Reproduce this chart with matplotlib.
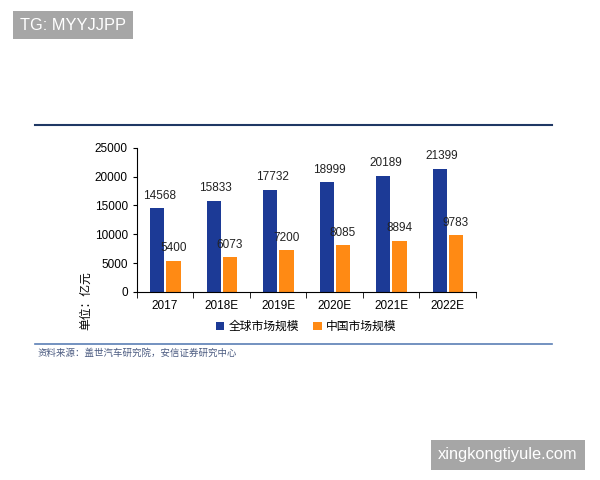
import numpy as np
import matplotlib.pyplot as plt
from matplotlib.lines import Line2D

plt.rcParams['font.family'] = ['Liberation Sans', 'Noto Sans CJK SC', 'DejaVu Sans']

# 数据
years = ['2017', '2018E', '2019E', '2020E', '2021E', '2022E']
global_size = [14568, 15833, 17732, 18999, 20189, 21399]
china_size = [5400, 6073, 7200, 8085, 8894, 9783]

blue = '#1c3a96'
orange = '#ff8a14'

fig = plt.figure(figsize=(6, 4.8), dpi=100)
ax = fig.add_axes([0.228, 0.392, 0.565, 0.30])

x = np.arange(len(years))
w = 0.25
ax.bar(x - 0.14, global_size, width=w, color=blue, label='全球市场规模')
ax.bar(x + 0.15, china_size, width=w, color=orange, label='中国市场规模')

for i in range(len(years)):
    ax.text(x[i] - 0.1, global_size[i] + 1100, str(global_size[i]),
            ha='center', va='bottom', fontsize=8.5, color='#222222')
    ax.text(x[i] + 0.15, china_size[i] + 1100, str(china_size[i]),
            ha='center', va='bottom', fontsize=8.5, color='#222222')

ax.set_xlim(-0.5, len(years) - 0.5)
ax.set_ylim(0, 25000)
ax.set_yticks(range(0, 25001, 5000))
ax.set_xticks(x)
ax.set_xticklabels(years)
ax.set_xticks(np.arange(-0.5, len(years), 1), minor=True)
ax.tick_params(axis='x', which='major', length=0, labelsize=8.5, pad=6)
ax.tick_params(axis='x', which='minor', length=4, direction='out')
ax.tick_params(axis='y', length=3, direction='out', labelsize=8.5)
ax.spines['top'].set_visible(False)
ax.spines['right'].set_visible(False)
ax.set_ylabel('单位：亿元', fontsize=8.5)
ax.yaxis.set_label_coords(-0.133, -0.06)

ax.legend(loc='upper center', bbox_to_anchor=(0.5, -0.13), ncol=2, frameon=False,
          fontsize=8.5, handlelength=0.7, handleheight=0.7, handletextpad=0.4,
          columnspacing=1.2)

# 上下分隔线
fig.add_artist(Line2D([35 / 600, 552 / 600], [1 - 125 / 480, 1 - 125 / 480],
                      color='#1f3864', lw=1.5))
fig.add_artist(Line2D([35 / 600, 552 / 600], [1 - 344 / 480, 1 - 344 / 480],
                      color='#5b7fb5', lw=1.2))
fig.text(38 / 600, 1 - 353 / 480, '资料来源：盖世汽车研究院，安信证券研究中心',
         fontsize=6.8, color='#4a5a80', style='italic', va='center',
         family=['Noto Sans CJK SC', 'DejaVu Sans'])

# 水印
fig.text(20 / 600, 1 - 25 / 480, 'TG: MYYJJPP', fontsize=11.8, color='white',
         va='center', ha='left',
         bbox=dict(boxstyle='square,pad=0.4', fc='#a6a6a6', ec='none'))
fig.text(508 / 600, 1 - 455 / 480, 'xingkongtiyule.com', fontsize=11.8,
         color='white', va='center', ha='center',
         bbox=dict(boxstyle='square,pad=0.45', fc='#a6a6a6', ec='none'))

fig.savefig('out.png', dpi=100)
